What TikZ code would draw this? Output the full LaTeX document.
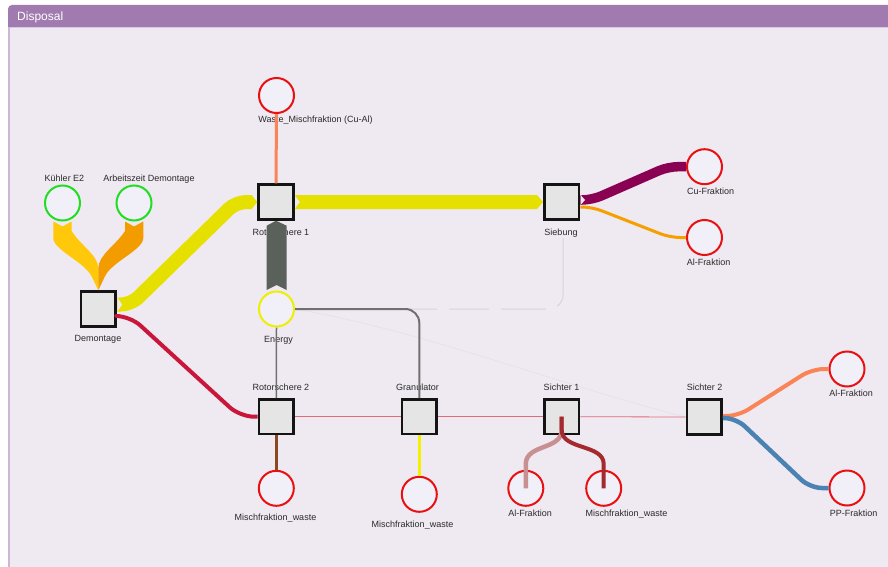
\documentclass[tikz,border=0pt]{standalone}
\usepackage{fontspec}
\setmainfont{Liberation Sans}
\definecolor{panelbg}{HTML}{EFE9F1}
\definecolor{headerc}{HTML}{A17BAF}
\definecolor{headline}{HTML}{D9C8E0}
\definecolor{bordc}{HTML}{CDB6D6}
\definecolor{circfill}{HTML}{F1EFF8}
\definecolor{procfill}{HTML}{E5E5E5}
\definecolor{sinkred}{HTML}{E81010}
\definecolor{srcgreen}{HTML}{22DD22}
\definecolor{energyyel}{HTML}{EEEE00}
\definecolor{labelc}{HTML}{2A2A2A}
\definecolor{bandyel}{HTML}{E6E000}
\definecolor{bandgold}{HTML}{FFC80A}
\definecolor{bandorange}{HTML}{F39C00}
\definecolor{bandgray}{HTML}{5A615B}
\definecolor{linecoral}{HTML}{FA8455}
\definecolor{graylink}{HTML}{707070}
\definecolor{faintlink}{HTML}{D8D3DA}
\definecolor{faintlink2}{HTML}{E6E0E8}
\definecolor{thinred}{HTML}{E26A78}
\definecolor{crimson}{HTML}{C8173A}
\definecolor{brownlink}{HTML}{8B4A1E}
\definecolor{yellink}{HTML}{F5F000}
\definecolor{purpleband}{HTML}{8A0052}
\definecolor{orangelink}{HTML}{F5A000}
\definecolor{steel}{HTML}{4A82B4}
\definecolor{pinklink}{HTML}{C99092}
\definecolor{darkredlink}{HTML}{A32A2E}
\tikzset{
  proc/.style={rectangle, draw=black!92, line width=2.8pt, fill=procfill, minimum size=34.6pt, inner sep=0pt},
  sink/.style={circle, draw=sinkred, line width=2pt, fill=circfill, minimum size=35pt, inner sep=0pt},
  src/.style={sink, draw=srcgreen},
  lbl/.style={font=\fontsize{9}{10}\selectfont, text=labelc, inner sep=0pt, anchor=base},
  flowline/.style={line cap=butt, line join=round},
}
\begin{document}
\begin{tikzpicture}[x=1pt,y=-1pt]
\useasboundingbox (0,0) rectangle (888,567);
\clip (0,0) rectangle (888,567);
% background and panel
\fill[white] (0,0) rectangle (888,567);
\fill[headerc, rounded corners=4pt] (8,5) rectangle (900,40);
\fill[panelbg] (8,27) rectangle (900,580);
\draw[headline, line width=1pt] (8,27.5) -- (900,27.5);
\fill[bordc] (8,27) rectangle (10,580);
\node[anchor=base west, text=white, inner sep=0pt, font=\fontsize{12}{14}\selectfont] (title) at (17,20.6) {Disposal};

% nodes
\node[sink] (wtop) at (276.5,95.5) {};
\node[src] (kuehl) at (62.5,203) {};
\node[src] (arb) at (134,203) {};
\node[proc] (dem) at (98.3,309) {};
\node[proc] (rot1) at (276,202) {};
\node[proc] (sieb) at (561.7,202) {};
\node[sink] (cu) at (704.5,166.7) {};
\node[sink] (al1) at (704.5,237.5) {};
\node[sink, draw=energyyel] (energy) at (276.5,309) {};
\node[proc] (rot2) at (276.3,416.7) {};
\node[proc] (gran) at (419.3,416.7) {};
\node[proc] (s1) at (561.7,416.7) {};
\node[proc] (s2) at (704.2,417) {};
\node[sink] (w2) at (276.3,488.3) {};
\node[sink] (w3) at (419.3,494.3) {};
\node[sink] (al2) at (525.8,488.3) {};
\node[sink] (w4) at (603.7,488.3) {};
\node[sink] (al3) at (847,369) {};
\node[sink] (pp) at (847,488) {};
\coordinate (siebdown) at (563,238);

% faint links
\draw[faintlink2, line width=0.7pt] (energy.east) .. controls (420,330) and (560,385) .. (s2.west);
\draw[faintlink, line width=1pt, rounded corners=14pt, dash pattern=on 70pt off 12pt on 45pt off 12pt on 40pt off 12pt on 60pt off 12pt]
  (siebdown) -- (siebdown |- energy.east) -- (energy.east);

% labels
\node[lbl] (lkuehl) at (64.5,181.7) {Kühler E2};
\node[lbl] (larb) at (149,181.7) {Arbeitszeit Demontage};
\node[lbl] (lwtop) at (315.5,122.3) {Waste\_Mischfraktion (Cu-Al)};
\node[lbl] (ldem) at (98,341.7) {Demontage};
\node[lbl] (lrot1) at (281,235) {Rotorschere 1};
\node[lbl] (lsieb) at (561,235) {Siebung};
\node[lbl] (lcu) at (710.5,194) {Cu-Fraktion};
\node[lbl] (lal1) at (708.5,265) {Al-Fraktion};
\node[lbl] (lenergy) at (278.5,342.5) {Energy};
\node[lbl] (lrot2) at (281,390) {Rotorschere 2};
\node[lbl] (lgran) at (417.5,390) {Granulator};
\node[lbl] (ls1) at (561.5,390) {Sichter 1};
\node[lbl] (ls2) at (704.5,390) {Sichter 2};
\node[lbl] (lw2) at (275.5,520.5) {Mischfraktion\_waste};
\node[lbl] (lw3) at (412.5,527.3) {Mischfraktion\_waste};
\node[lbl] (lal2) at (530,516) {Al-Fraktion};
\node[lbl] (lw4) at (626.5,516) {Mischfraktion\_waste};
\node[lbl] (lal3) at (851,396) {Al-Fraktion};
\node[lbl] (lpp) at (853.5,516) {PP-Fraktion};

% energy links
\draw[graylink, line width=1.5pt] (energy.south) -- (rot2.north);
\draw[graylink, line width=2pt, rounded corners=14pt] (energy.east) -- (gran.north |- energy.east) -- (gran.north);

% thin red chain
\draw[thinred, line width=0.8pt] (rot2.east) -- (gran.west);
\draw[thinred, line width=0.8pt] (gran.east) -- (s1.west);
\draw[thinred, line width=0.8pt] (s1.east) -- (s2.west);

% simple outputs
\draw[linecoral, line width=3pt] (rot1.north) -- (wtop.south);
\draw[brownlink, line width=3pt] (rot2.south) -- (w2.north);
\draw[yellink, line width=3pt] (gran.south) -- (w3.north);

% source bands into Demontage
\fill[bandgold] (53.3,221.5) -- (62.5,226.5) -- (71.7,221.5) -- (71.7,231)
  .. controls (80,245) and (98,255) .. (98.3,268) -- (dem.north)
  -- (92,277) .. controls (85,262) and (53.3,250) .. (53.3,238) -- cycle;
\fill[bandorange] (125,221.5) -- (134,226.5) -- (143.3,221.5) -- (143.3,238)
  .. controls (143.3,250) and (111,262) .. (104.6,277) -- (dem.north)
  -- (98.3,268) .. controls (98.6,255) and (116,245) .. (125,231) -- cycle;

% Demontage -> Rotorschere 1
\draw[bandyel, flowline, line width=14pt, rounded corners=10pt]
  (dem.east |- 0,304.5) -- (131,304.5) -- (236,202) -- (252,202);
\fill[bandyel] (251.5,195) -- (rot1.west) -- (251.5,209) -- cycle;
\fill[panelbg] (117.4,297.4) -- (122,304.5) -- (117.4,311.6) -- cycle;

% Rotorschere 1 -> Siebung
\fill[bandyel] (rot1.east |- 0,195) -- (300,202) -- (rot1.east |- 0,209) -- (537,209)
  -- (sieb.west) -- (537,195) -- cycle;

% Energy -> Rotorschere 1
\fill[bandgray] (266.7,290) -- (266.7,225.7) -- (rot1.south) -- (286.7,225.7)
  -- (286.7,290) -- (276.5,285) -- cycle;

% Demontage -> Rotorschere 2
\draw[crimson, flowline, line width=4pt, rounded corners=14pt]
  (dem.east |- 0,316) -- (130,316) -- (240,416.7) -- (rot2.west);

% Siebung outputs
\draw[purpleband, flowline, line width=9.5pt, rounded corners=10pt]
  (sieb.east |- 0,200) -- (592,200) -- (668,166.7) -- (cu.west);
\fill[panelbg] (580.8,195.2) -- (585,200) -- (580.8,204.8) -- cycle;
\draw[orangelink, flowline, line width=3pt, rounded corners=10pt]
  (sieb.east |- 0,207) -- (592,207) -- (670,237.5) -- (al1.west);

% Sichter 2 outputs
\draw[linecoral, flowline, line width=4pt, rounded corners=12pt]
  (s2.east |- 0,416) -- (738,416) -- (812,369) -- (al3.west);
\draw[steel, flowline, line width=4.5pt, rounded corners=12pt]
  (s2.east |- 0,418) -- (736,418) -- (810,488) -- (pp.west);

% Sichter 1 outputs (drawn over the nodes)
\draw[pinklink, flowline, line width=4.5pt]
  (s1.center) -- (561.7,430) .. controls (561.7,450) and (525.8,444) .. (525.8,464) -- (al2.center);
\draw[darkredlink, flowline, line width=4pt]
  (s1.center) -- (561.7,430) .. controls (561.7,450) and (603.7,444) .. (603.7,464) -- (w4.center);
\end{tikzpicture}
\end{document}
